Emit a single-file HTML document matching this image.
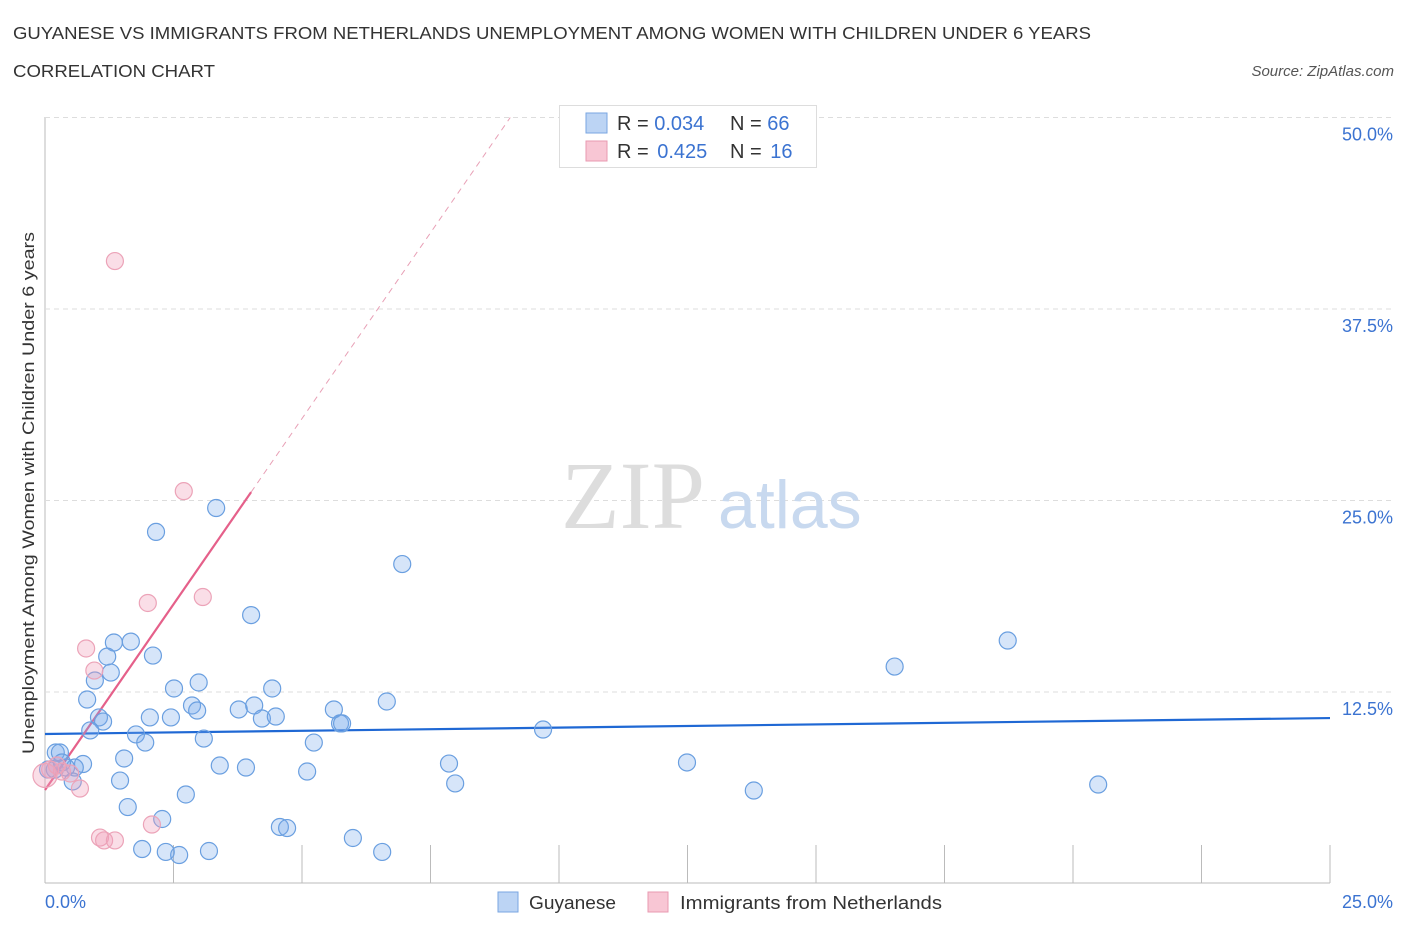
<!DOCTYPE html>
<html><head><meta charset="utf-8"><style>
body{margin:0;background:#fff;font-family:"Liberation Sans",sans-serif;}
svg text{font-family:"Liberation Sans",sans-serif;}
</style></head><body>
<svg id="chart" width="1406" height="930" xmlns="http://www.w3.org/2000/svg">
<text x="13" y="39" font-size="17.5" fill="#333" textLength="1078" lengthAdjust="spacingAndGlyphs">GUYANESE VS IMMIGRANTS FROM NETHERLANDS UNEMPLOYMENT AMONG WOMEN WITH CHILDREN UNDER 6 YEARS</text>
<text x="13" y="77" font-size="17.5" fill="#333" textLength="202" lengthAdjust="spacingAndGlyphs">CORRELATION CHART</text>
<text x="1394" y="76" font-size="15" fill="#555" font-style="italic" text-anchor="end">Source: ZipAtlas.com</text>
<g id="grid"></g>
<text x="705" y="528" font-size="96" fill="#ddd" text-anchor="end" style="font-family:'Liberation Serif',serif">ZIP</text>
<text x="718" y="528" font-size="68" fill="#c8d9ef">atlas</text>
<g id="lines"></g>
<g id="points"></g>
<text x="34" y="493" font-size="17" fill="#333" text-anchor="middle" textLength="522" lengthAdjust="spacingAndGlyphs" transform="rotate(-90 34 493)">Unemployment Among Women with Children Under 6 years</text>
<text x="45" y="908" font-size="18" fill="#3b73d1">0.0%</text>
<text x="1393" y="908" font-size="18" fill="#3b73d1" text-anchor="end">25.0%</text>
<g>
<rect x="498" y="892" width="20" height="20" fill="#bcd4f4" stroke="#7aa6e2"/>
<text x="529" y="909" font-size="18.5" fill="#333" textLength="87" lengthAdjust="spacingAndGlyphs">Guyanese</text>
<rect x="648" y="892" width="20" height="20" fill="#f8c6d4" stroke="#e89ab1"/>
<text x="680" y="909" font-size="18.5" fill="#333" textLength="262" lengthAdjust="spacingAndGlyphs">Immigrants from Netherlands</text>
</g>
<g>
<rect x="559.5" y="105.5" width="257" height="62" fill="#fff" stroke="#ddd"/>
<rect x="586" y="113" width="21" height="20" fill="#bcd4f4" stroke="#7aa6e2"/>
<rect x="586" y="141" width="21" height="20" fill="#f8c6d4" stroke="#e89ab1"/>
<text x="617" y="130" font-size="20" fill="#333">R = <tspan fill="#3b73d1">0.034</tspan></text>
<text x="730" y="130" font-size="20" fill="#333">N = <tspan fill="#3b73d1">66</tspan></text>
<text x="617" y="158" font-size="20" fill="#333">R = <tspan fill="#3b73d1" dx="3">0.425</tspan></text>
<text x="730" y="158" font-size="20" fill="#333">N = <tspan fill="#3b73d1" dx="3">16</tspan></text>
</g>
</svg>
<script>
const yTicks=[12.5,25,37.5,50];
const yTickLabels=["12.5%","25.0%","37.5%","50.0%"];
const blueX=[2.16,3.33,4.01,6.95,18.73,16.53,1.34,1.67,1.21,2.1,1.28,0.97,0.82,2.51,2.99,4.42,6.65,1.05,1.13,2.04,2.45,2.86,2.96,3.77,4.07,4.22,4.49,5.62,5.74,5.78,0.88,1.77,1.95,3.09,5.23,9.69,0.21,0.29,1.54,3.4,3.91,5.1,7.86,12.49,0.74,0.58,0.41,1.46,7.98,20.49,13.79,2.74,0.54,1.61,2.28,4.57,4.71,5.99,1.89,2.35,2.61,3.19,6.56,0.06,0.19,0.33];
const blueY=[22.95,24.51,17.52,20.85,15.86,14.16,15.73,15.79,14.81,14.88,13.77,13.25,12.01,12.73,13.12,12.73,11.88,10.84,10.57,10.84,10.84,11.62,11.29,11.36,11.62,10.77,10.9,11.36,10.45,10.45,9.99,9.73,9.2,9.46,9.2,10.05,8.55,8.55,8.16,7.7,7.57,7.31,7.83,7.9,7.8,7.57,7.57,6.72,6.53,6.46,6.07,5.81,6.66,4.99,4.21,3.69,3.62,2.97,2.25,2.06,1.86,2.12,2.06,7.44,7.44,7.9];
const pinkX=[1.36,2.7,2.0,3.07,0.8,0.96,0.68,1.07,1.15,1.36,2.08,0.1,0.33,0.49,0.0,0.23];
const pinkY=[40.63,25.61,18.31,18.7,15.34,13.9,6.2,3.0,2.81,2.81,3.85,7.44,7.31,7.18,7.05,7.7];
const blueLine=[9.76,10.80];
const pinkIntercept=6.10, pinkSlope=4.85, pinkSolidEnd=4.01;
const X=v=>45+v/25*1285, Y=v=>883.5-v/12.5*191.5;
const NS="http://www.w3.org/2000/svg";
function mk(t,a,p){const e=document.createElementNS(NS,t);for(const k in a)e.setAttribute(k,a[k]);p.appendChild(e);return e;}
const grid=document.getElementById('grid');
mk('line',{x1:45,y1:117,x2:45,y2:883,stroke:'#bbb'},grid);
mk('line',{x1:45,y1:883,x2:1330,y2:883,stroke:'#bbb'},grid);
for(let i=1;i<=10;i++){const l=mk('line',{x1:X(i*2.5),y1:845,x2:X(i*2.5),y2:883,stroke:'#bbb'},grid);

}
yTicks.forEach((t,i)=>{const l=mk('line',{x1:45,y1:Y(t),x2:1392,y2:Y(t),stroke:'#ddd','stroke-dasharray':'5,4'},grid);


const tx=mk('text',{x:1393,y:Y(t)+23,'font-size':18,fill:'#3b73d1','text-anchor':'end'},grid);tx.textContent=yTickLabels[i];

});
const pts=document.getElementById('points');
blueX.forEach((x,i)=>{const c=mk('circle',{cx:X(x),cy:Y(blueY[i]),r:8.5,fill:'rgba(120,170,235,0.3)',stroke:'#6a9fe0','stroke-width':1.2},pts);

});
pinkX.forEach((x,i)=>{const c=mk('circle',{cx:X(x),cy:Y(pinkY[i]),r:i==14?12:8.5,fill:'rgba(242,160,185,0.35)',stroke:'#eca3b8','stroke-width':1.2},pts);

});
const ln=document.getElementById('lines');
const bl=mk('line',{x1:X(0),y1:Y(blueLine[0]),x2:X(25),y2:Y(blueLine[1]),stroke:'#1f68d4','stroke-width':2.2},ln);


const pxEnd=(50-pinkIntercept)/pinkSlope;
const pd=mk('line',{x1:X(pinkSolidEnd),y1:Y(pinkIntercept+pinkSlope*pinkSolidEnd),x2:X(pxEnd),y2:Y(50),stroke:'#e8a0b6','stroke-width':1,'stroke-dasharray':'6,5'},ln);


const ps=mk('line',{x1:X(0),y1:Y(pinkIntercept),x2:X(pinkSolidEnd),y2:Y(pinkIntercept+pinkSlope*pinkSolidEnd),stroke:'#e5608a','stroke-width':2.2},ln);


</script>
</body></html>
